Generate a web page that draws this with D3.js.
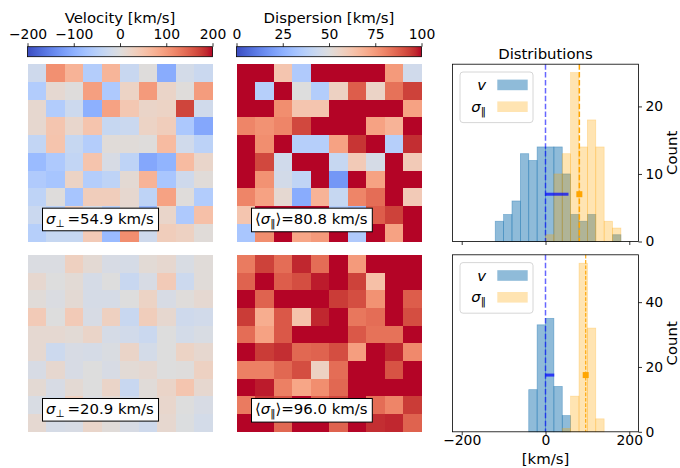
<!DOCTYPE html>
<html>
<head>
<meta charset="utf-8">
<script src="https://cdn.jsdelivr.net/npm/d3@7/dist/d3.min.js"></script>
<style>
  html, body { margin: 0; padding: 0; background: #fff; }
  svg text { font-family: "DejaVu Sans", "Noto Sans", sans-serif; fill: #000; }
</style>
</head>
<body>
<svg id="fig" width="680" height="468"></svg>
<script>
// ---------------- data ----------------
const velocityTicks = [-200, -100, 0, 100, 200];
const dispersionTicks = [0, 25, 50, 75, 100];
const histTicks = [-200, 0, 200];
const countTicksTop = [0, 10, 20];
const countTicksBottom = [0, 20, 40];

// 10x10 maps in km/s, rows listed from the top
const velocityTop = [
  [-22, 110, 72, -55, 70, -30, 2, -105, -15, -28],
  [-58, 12, 2, 95, -62, 25, 100, 22, 3, 98],
  [15, -58, -25, -100, 92, 45, 22, 25, 170, -20],
  [15, 48, 18, 50, -32, -28, 25, 35, -65, -110],
  [-38, 50, -32, -55, 5, 5, 2, 62, -20, -45],
  [-85, -62, -38, 50, -10, -42, -110, -95, 62, 20],
  [-60, -70, 25, -55, -42, 10, 72, -68, -22, 5],
  [-42, 2, -70, 35, 35, 15, -42, 92, 3, -58],
  [-28, -45, 30, -15, -50, 10, -90, 20, -62, 55],
  [-52, -32, -32, 40, -85, 112, -22, 35, 28, 5]
];
const dispersionTop = [
  [115, 130, 62, 35, 120, 110, 140, 105, 75, 45],
  [108, 37, 125, 50, 36, 57, 88, 56, 84, 93],
  [112, 118, 78, 62, 62, 104, 130, 110, 122, 73],
  [80, 77, 80, 92, 115, 108, 102, 73, 68, 150],
  [106, 78, 120, 37, 37, 73, 95, 125, 37, 96],
  [118, 92, 45, 112, 103, 42, 60, 47, 135, 60],
  [125, 77, 46, 40, 105, 18, 118, 73, 113, 102],
  [80, 73, 53, 24, 68, 42, 80, 85, 110, 60],
  [62, 100, 108, 115, 104, 36, 30, 88, 93, 160],
  [33, 78, 120, 72, 75, 112, 35, 128, 73, 170]
];
const velocityBottom = [
  [-5, -5, 30, 10, -10, -12, 8, 15, -8, 5],
  [15, 0, 8, -12, 0, -30, -10, 40, -25, 5],
  [5, -5, 10, -12, -12, 0, 25, -10, 3, 12],
  [40, 0, 40, -10, 30, -30, 35, 15, -22, -18],
  [12, 12, 8, 22, -12, -18, -28, 0, -15, -8],
  [12, -25, -10, -12, -6, 22, -15, 0, 25, 15],
  [-10, 15, -10, 0, -10, 8, 12, 0, 2, 28],
  [10, -10, 10, 0, 22, -30, 5, 22, 48, 15],
  [-8, -15, 30, -5, 10, -20, 5, 18, 0, -10],
  [12, -12, -10, 20, 5, -10, -22, 15, -3, -15]
];
const dispersionBottom = [
  [82, 93, 85, 97, 85, 110, 75, 115, 120, 105],
  [87, 108, 88, 91, 98, 112, 93, 64, 118, 104],
  [105, 87, 110, 115, 102, 94, 91, 77, 120, 88],
  [94, 70, 89, 63, 97, 108, 83, 85, 106, 91],
  [85, 73, 89, 110, 104, 116, 89, 84, 84, 112],
  [107, 94, 96, 86, 87, 91, 74, 118, 97, 79],
  [81, 81, 86, 91, 57, 85, 105, 112, 90, 103],
  [110, 98, 81, 72, 78, 86, 108, 114, 102, 111],
  [82, 95, 90, 104, 88, 92, 106, 85, 80, 94],
  [106, 109, 86, 115, 103, 87, 112, 96, 97, 87]
];

const sigmaPerp = [54.9, 20.9];        // km/s
const meanDispersion = [80.8, 96.0];   // km/s
const meanVelocity = [0, 0];           // km/s

// histogram counts, 20 km/s bins starting at the given edge
const binWidth = 20;
const velHistTopStart = -120;
const velHistTop = [3, 4, 6, 13, 12, 14, 14, 14, 10, 4, 3, 4, 0, 0, 1];
const dispHistTopStart = 0;
const dispHistTop = [1, 10, 13, 25, 14, 18, 14, 3, 2];
const velHistBottomStart = -40;
const velHistBottom = [13, 33, 35, 14, 5];
const dispHistBottomStart = 40;
const dispHistBottom = [1, 11, 52, 32, 4];

// coolwarm colour map samples
const coolwarmTable = [
  [59,76,192],[68,90,204],[77,104,215],[87,117,225],[98,130,234],[108,142,241],
  [119,154,247],[130,165,251],[141,176,254],[152,185,255],[163,194,255],[174,201,253],
  [184,208,249],[194,213,244],[204,217,238],[213,219,230],[221,221,221],[229,216,209],
  [236,211,197],[241,204,185],[245,196,173],[247,187,160],[247,177,148],[247,166,135],
  [244,154,123],[241,141,111],[236,127,99],[229,112,88],[222,96,77],[213,80,66],
  [203,62,56],[192,40,47],[180,4,38]
];

// ---------------- drawing ----------------
const FS = 13.9;   // tick labels
const LFS = 14.9;  // titles, axis labels, annotations, legend
const svg = d3.select("#fig");
const defs = svg.append("defs");

const cwColors = coolwarmTable.map(c => d3.rgb(c[0], c[1], c[2]).toString());
const coolwarm = d3.scaleLinear()
  .domain(cwColors.map((_, i) => i / (cwColors.length - 1)))
  .range(cwColors)
  .interpolate(d3.interpolateRgb)
  .clamp(true);

const velColor = v => coolwarm((v + 200) / 400);
const dispColor = v => coolwarm(v / 100);

const colVel = [27.5, 212.5], colDisp = [236.5, 421.5], colHist = [452.5, 638.5];
const rowY = [[64.2, 241.5], [254.8, 431.8]];

function colorbar(x, domain, ticks, title, id) {
  const y0 = 46.7, y1 = 56.7;
  const g = svg.append("g");
  const grad = defs.append("linearGradient").attr("id", id)
    .attr("x1", "0%").attr("x2", "100%").attr("y1", "0%").attr("y2", "0%");
  cwColors.forEach((c, i) => grad.append("stop")
    .attr("offset", (100 * i / (cwColors.length - 1)) + "%").attr("stop-color", c));
  g.append("rect").attr("x", x[0]).attr("y", y0).attr("width", x[1] - x[0]).attr("height", y1 - y0)
    .attr("fill", `url(#${id})`).attr("stroke", "#000").attr("stroke-width", 0.8);
  const s = d3.scaleLinear().domain(domain).range(x);
  const ax = g.append("g").attr("transform", `translate(0,${y0})`)
    .call(d3.axisTop(s).tickValues(ticks).tickSize(3.5).tickPadding(3.5));
  ax.select(".domain").remove();
  ax.attr("font-size", FS).attr("font-family", null);
  ax.selectAll(".tick line").attr("stroke-width", 0.8);
  ax.selectAll(".tick text").attr("y", -7.6).attr("dy", 0);
  g.append("text").attr("x", (x[0] + x[1]) / 2).attr("y", 22.8)
    .attr("text-anchor", "middle").style("font-size", LFS + "px").text(title);
}

function heatmap(values, xr, yr, color) {
  const xs = d3.scaleBand().domain(d3.range(10)).range(xr);
  const ys = d3.scaleBand().domain(d3.range(10)).range(yr);
  const g = svg.append("g").attr("shape-rendering", "crispEdges");
  const cells = values.flatMap((row, r) => row.map((v, c) => ({ r, c, v })));
  g.selectAll("rect").data(cells).join("rect")
    .attr("x", d => xs(d.c)).attr("y", d => ys(d.r))
    .attr("width", xs.bandwidth() + 0.4).attr("height", ys.bandwidth() + 0.4)
    .attr("fill", d => color(d.v));
  return g;
}

function annotate(xr, yr, parts) {
  const g = svg.append("g");
  const x = xr[0] + 0.1 * (xr[1] - xr[0]);
  const y = yr[1] - 0.1 * (yr[1] - yr[0]);
  const t = g.append("text").attr("x", x).attr("y", y).style("font-size", LFS + "px");
  parts.forEach(p => {
    const ts = t.append("tspan").text(p.s);
    if (p.it) ts.style("font-style", "italic");
    if (p.sub) ts.style("font-size", (LFS * 0.7) + "px").attr("dy", 3.2);
    if (p.back) ts.attr("dy", -3.2);
  });
  const bb = t.node().getBBox();
  g.insert("rect", "text")
    .attr("x", bb.x - 3.5).attr("y", bb.y - 1.6)
    .attr("width", bb.width + 8).attr("height", bb.height + 3.4)
    .attr("fill", "#fff").attr("stroke", "#000").attr("stroke-width", 1);
}

function histPanel(yr, velStart, velCounts, dispStart, dispCounts, countTicks, sigP, meanS, meanV, showX) {
  const g = svg.append("g");
  const x = d3.scaleLinear().domain([-222, 222]).range(colHist);
  const ymax = d3.max(velCounts.concat(dispCounts)) * 1.05;
  const y = d3.scaleLinear().domain([0, ymax]).range([yr[1], yr[0]]);

  const bars = (counts, start, col, op) => {
    g.append("g").selectAll("rect").data(counts.map((c, i) => ({ c, x0: start + i * binWidth })))
      .join("rect")
      .attr("x", d => x(d.x0)).attr("width", d => x(d.x0 + binWidth) - x(d.x0))
      .attr("y", d => y(d.c)).attr("height", d => y(0) - y(d.c))
      .attr("fill", col).attr("fill-opacity", op)
      .attr("stroke", col).attr("stroke-opacity", op).attr("stroke-width", d => d.c > 0 ? 0.7 : 0);
  };
  bars(velCounts, velStart, "#1f77b4", 0.5);
  bars(dispCounts, dispStart, "#ffa500", 0.3);

  const yMark = d3.max(velCounts) / 2;
  // mean lines
  g.append("line").attr("x1", x(meanV)).attr("x2", x(meanV)).attr("y1", yr[0]).attr("y2", yr[1])
    .attr("stroke", "#0000ff").attr("stroke-opacity", 0.6).attr("stroke-width", 1.5)
    .attr("stroke-dasharray", "5.5,2.4");
  g.append("line").attr("x1", x(meanS)).attr("x2", x(meanS)).attr("y1", yr[0]).attr("y2", yr[1])
    .attr("stroke", "#ffa500").attr("stroke-width", showX ? 1.1 : 1.5)
    .attr("stroke-dasharray", showX ? "3.7,1.6" : "5.5,2.4");
  // velocity spread bar and mean dispersion marker
  g.append("line").attr("x1", x(meanV)).attr("x2", x(meanV + sigP)).attr("y1", y(yMark)).attr("y2", y(yMark))
    .attr("stroke", "#0000ff").attr("stroke-opacity", 0.7).attr("stroke-width", 3);
  g.append("rect").attr("x", x(meanS) - 3).attr("y", y(yMark) - 3).attr("width", 6).attr("height", 6)
    .attr("fill", "#ffa500");

  // frame
  g.append("rect").attr("x", colHist[0]).attr("y", yr[0]).attr("width", colHist[1] - colHist[0])
    .attr("height", yr[1] - yr[0]).attr("fill", "none").attr("stroke", "#000").attr("stroke-width", 0.8);

  const xa = g.append("g").attr("transform", `translate(0,${yr[1]})`)
    .call(d3.axisBottom(x).tickValues(histTicks).tickSize(3.5).tickPadding(3.5)
      .tickFormat(showX ? null : () => ""));
  xa.select(".domain").remove();
  xa.attr("font-size", FS).attr("font-family", null);
  xa.selectAll(".tick line").attr("stroke-width", 0.8);
  xa.selectAll(".tick text").attr("y", 13.2).attr("dy", 0);

  const ya = g.append("g").attr("transform", `translate(${colHist[1]},0)`)
    .call(d3.axisRight(y).tickValues(countTicks).tickSize(3.5).tickPadding(3.5));
  ya.select(".domain").remove();
  ya.attr("font-size", FS).attr("font-family", null);
  ya.selectAll(".tick line").attr("stroke-width", 0.8);

  g.append("text").attr("transform", `translate(677,${(yr[0] + yr[1]) / 2}) rotate(-90)`)
    .attr("text-anchor", "middle").style("font-size", LFS + "px").text("Count");

  // legend
  const lx = colHist[0] + 7.5, ly = yr[0] + 7.8;
  const lg = g.append("g");
  lg.append("rect").attr("x", lx).attr("y", ly).attr("width", 73).attr("height", 50.6)
    .attr("rx", 3).attr("fill", "#fff").attr("fill-opacity", 0.8)
    .attr("stroke", "#cccccc").attr("stroke-width", 0.8);
  const entries = [
    { parts: [{ s: "v", it: true }], col: "#1f77b4", op: 0.5 },
    { parts: [{ s: "σ", it: true }, { s: "‖", sub: true }], col: "#ffa500", op: 0.3 }
  ];
  entries.forEach((e, i) => {
    const cy = ly + 13 + i * 21.8;
    const t = lg.append("text").attr("x", lx + 26).attr("y", cy + 5).attr("text-anchor", "end")
      .style("font-size", LFS + "px");
    e.parts.forEach(p => {
      const ts = t.append("tspan").text(p.s);
      if (p.it) ts.style("font-style", "italic");
      if (p.sub) ts.style("font-size", (LFS * 0.7) + "px").attr("dy", 3);
    });
    lg.append("rect").attr("x", lx + 37.3).attr("y", cy - 5.4).attr("width", 30.4).attr("height", 10.6)
      .attr("fill", e.col).attr("fill-opacity", e.op);
  });

  if (showX) {
    g.append("text").attr("x", (colHist[0] + colHist[1]) / 2).attr("y", 463.5)
      .attr("text-anchor", "middle").style("font-size", LFS + "px").text("[km/s]");
  }
}

colorbar(colVel, [-200, 200], velocityTicks, "Velocity [km/s]", "cbVel");
colorbar(colDisp, [0, 100], dispersionTicks, "Dispersion [km/s]", "cbDisp");

heatmap(velocityTop, colVel, rowY[0], velColor);
heatmap(dispersionTop, colDisp, rowY[0], dispColor);
heatmap(velocityBottom, colVel, rowY[1], velColor);
heatmap(dispersionBottom, colDisp, rowY[1], dispColor);

[0, 1].forEach(i => {
  annotate(colVel, rowY[i], [
    { s: "σ", it: true }, { s: "⊥", sub: true }, { s: "\u2009=" + sigmaPerp[i].toFixed(1) + " km/s", back: true }
  ]);
  annotate(colDisp, rowY[i], [
    { s: "⟨" }, { s: "σ", it: true }, { s: "‖", sub: true }, { s: "⟩=" + meanDispersion[i].toFixed(1) + " km/s", back: true }
  ]);
});

svg.append("text").attr("x", (colHist[0] + colHist[1]) / 2).attr("y", 59.3)
  .attr("text-anchor", "middle").style("font-size", LFS + "px").text("Distributions");

histPanel(rowY[0], velHistTopStart, velHistTop, dispHistTopStart, dispHistTop, countTicksTop,
  sigmaPerp[0], meanDispersion[0], meanVelocity[0], false);
histPanel(rowY[1], velHistBottomStart, velHistBottom, dispHistBottomStart, dispHistBottom, countTicksBottom,
  sigmaPerp[1], meanDispersion[1], meanVelocity[1], true);
</script>
</body>
</html>
